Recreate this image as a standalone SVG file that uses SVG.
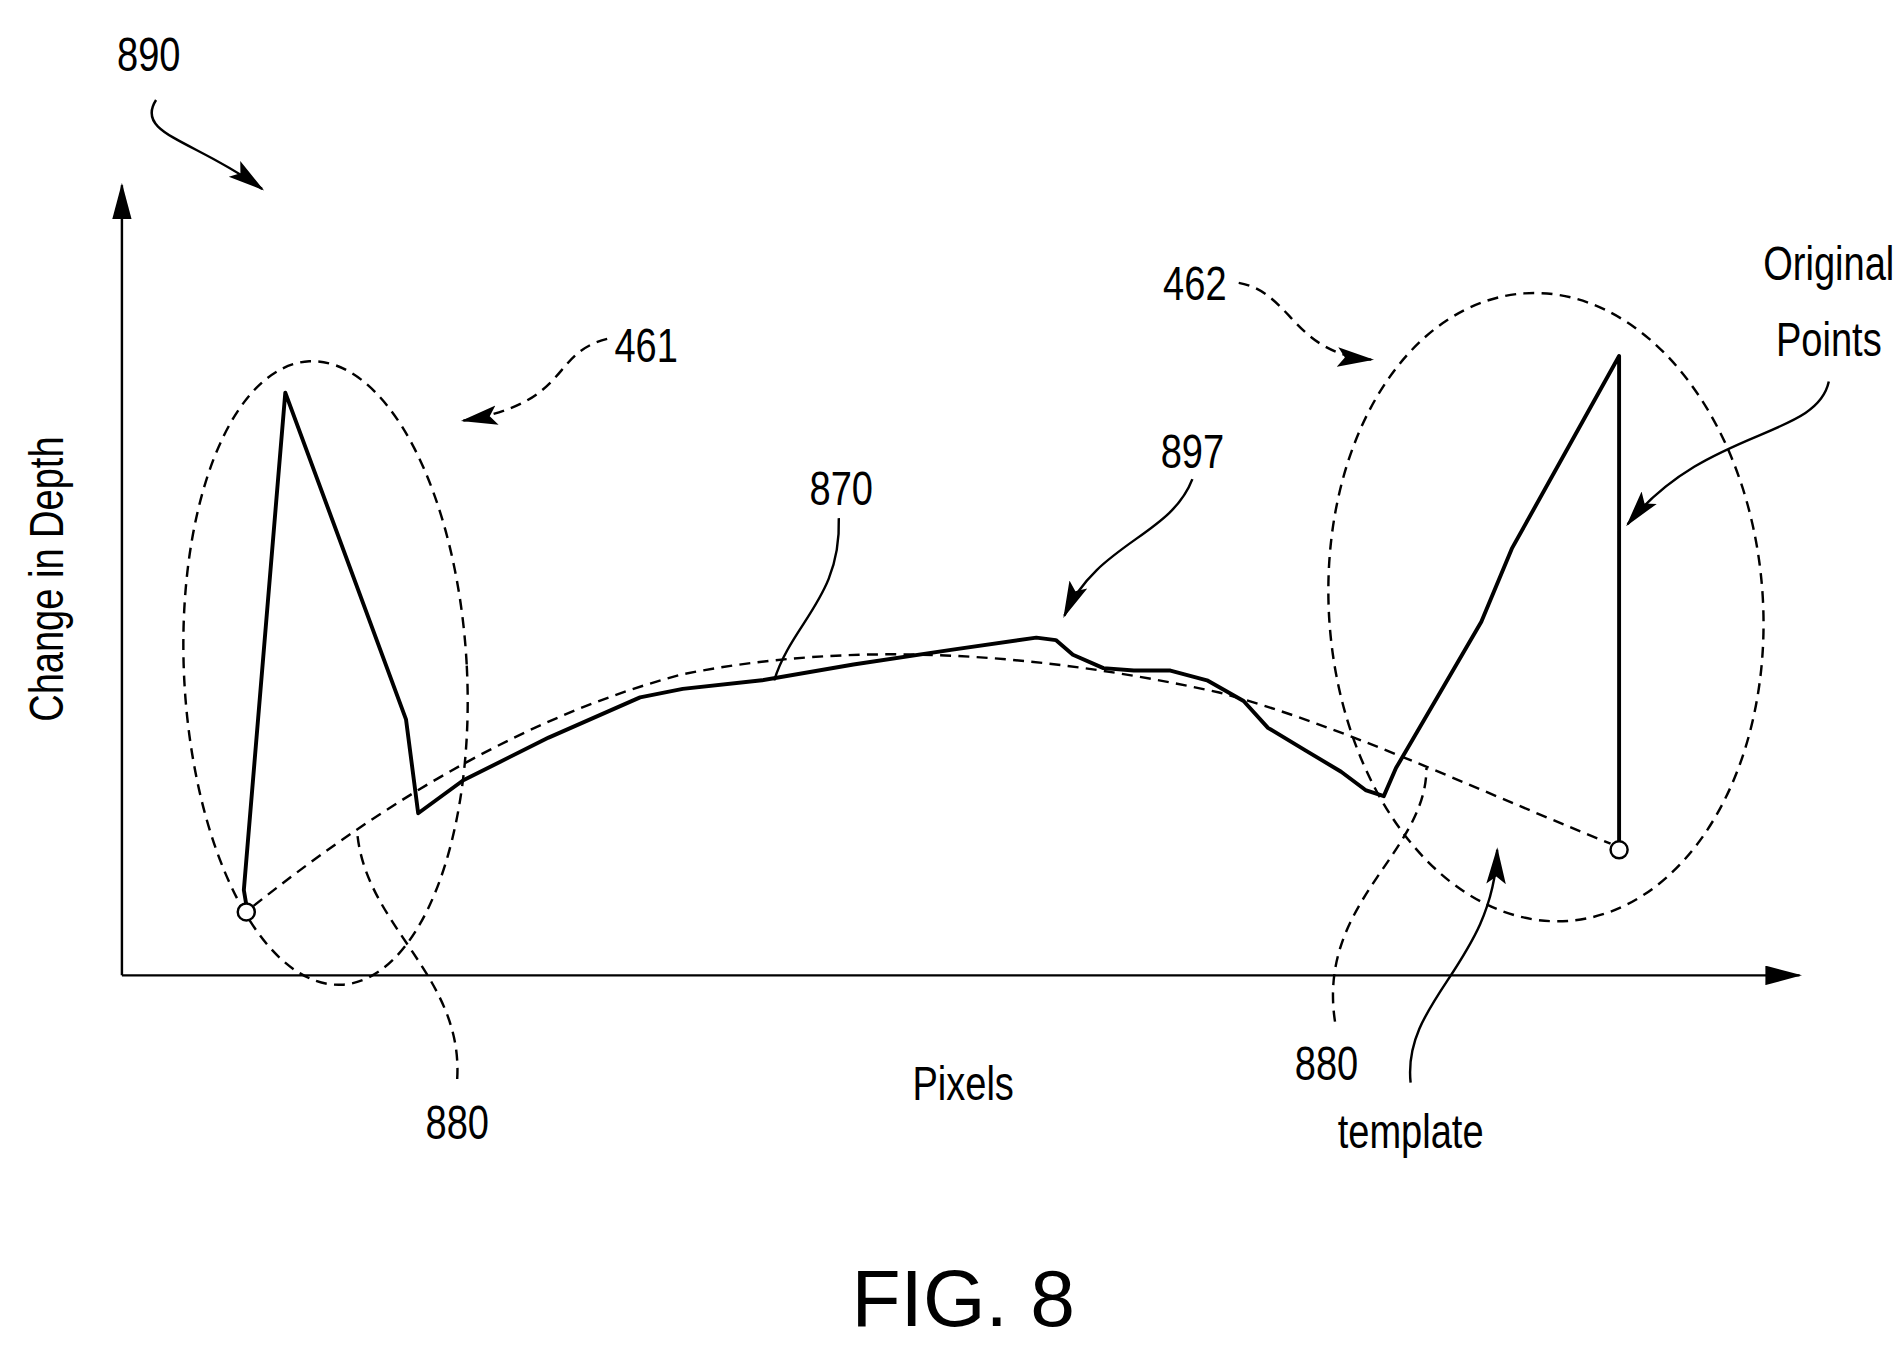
<svg xmlns="http://www.w3.org/2000/svg" width="1902" height="1346" viewBox="0 0 1902 1346">
<style>
.t{font-family:"Liberation Sans",sans-serif;font-size:40px;fill:#000}
.s{fill:none;stroke:#000;stroke-width:2}
.d{fill:none;stroke:#000;stroke-width:2;stroke-dasharray:9 6}
.c{fill:none;stroke:#000;stroke-width:3.2;stroke-linejoin:round}
</style>
<defs>
<marker id="a" viewBox="0 0 30 20" refX="28" refY="10" markerWidth="30" markerHeight="20" markerUnits="userSpaceOnUse" orient="auto"><path d="M0,2 L30,10 L0,18 L6,10 Z" fill="#000"/></marker>
<marker id="ax" viewBox="0 0 30 16" refX="28" refY="8" markerWidth="30" markerHeight="16" markerUnits="userSpaceOnUse" orient="auto"><path d="M0,0 L30,8 L0,16 Z" fill="#000"/></marker>
</defs>
<rect width="1902" height="1346" fill="#fff"/>
<g transform="scale(1.2192)">
<g id="axes">
<path class="s" d="M100,800 V152" marker-end="url(#ax)"/>
<path class="s" d="M100,800 H1476" marker-end="url(#ax)"/>
<text class="t" transform="translate(52,475) rotate(-90) scale(0.78,1)" text-anchor="middle">Change in Depth</text>
<text class="t" transform="translate(790,902) scale(0.78,1)" text-anchor="middle">Pixels</text>
</g>
<g id="region461"><ellipse class="d" cx="267" cy="552" rx="116" ry="256" transform="rotate(-3 267 552)"/></g>
<g id="region462"><ellipse class="d" cx="1268" cy="498" rx="178" ry="258" transform="rotate(-4 1268 498)"/></g>
<g id="original">
<path class="c" d="M202,742 L200,730 L234,322 L333,590 L343,667 L380,640 L450,605 L525,572 L560,565 L625,558 L700,545 L780,533 L850,523 L866,525 L880,537 L905,548 L930,550 L960,550 L990,558 L1020,575 L1040,597 L1070,615 L1100,633 L1120,648 L1135,653 L1145,630 L1180,570 L1215,510 L1240,450 L1328,292 L1328,430 L1328,690"/>
<circle cx="202" cy="748" r="7" fill="#fff" stroke="#000" stroke-width="2"/>
<circle cx="1328" cy="697" r="7" fill="#fff" stroke="#000" stroke-width="2"/>
</g>
<g id="template"><path class="d" d="M208,743 C300,670 420,590 560,553 C700,525 850,535 1000,568 C1100,595 1200,643 1321,692"/></g>
<g id="labels">
<text class="t" transform="translate(122,58) scale(0.78,1)" text-anchor="middle">890</text>
<text class="t" transform="translate(530,297) scale(0.78,1)" text-anchor="middle">461</text>
<text class="t" transform="translate(980,246) scale(0.78,1)" text-anchor="middle">462</text>
<text class="t" transform="translate(1500,230) scale(0.78,1)" text-anchor="middle">Original</text>
<text class="t" transform="translate(1500,292) scale(0.78,1)" text-anchor="middle">Points</text>
<text class="t" transform="translate(978,384) scale(0.78,1)" text-anchor="middle">897</text>
<text class="t" transform="translate(690,414) scale(0.78,1)" text-anchor="middle">870</text>
<text class="t" transform="translate(375,934) scale(0.78,1)" text-anchor="middle">880</text>
<text class="t" transform="translate(1088,886) scale(0.78,1)" text-anchor="middle">880</text>
<text class="t" transform="translate(1157,942) scale(0.78,1)" text-anchor="middle">template</text>
<text x="790" y="1088" text-anchor="middle" style="font-family:'Liberation Sans',sans-serif;font-size:66px">FIG. 8</text>
</g>
<g id="connectors">
<path class="s" d="M128,82 C110,110 160,115 215,155" marker-end="url(#a)"/>
<path class="d" d="M498,278 C450,290 470,330 380,345" marker-end="url(#a)"/>
<path class="d" d="M1016,232 C1060,240 1060,290 1125,295" marker-end="url(#a)"/>
<path class="s" d="M1500,313 C1490,360 1400,350 1335,430" marker-end="url(#a)"/>
<path class="s" d="M978,393 C960,440 900,445 873,505" marker-end="url(#a)"/>
<path class="s" d="M688,425 C690,490 650,510 635,558"/>
<path class="d" d="M375,885 C380,800 300,760 293,683"/>
<path class="d" d="M1095,838 C1080,740 1170,700 1170,630"/>
<path class="s" d="M1157,888 C1150,820 1225,790 1228,697" marker-end="url(#a)"/>
</g>
</g>
</svg>
